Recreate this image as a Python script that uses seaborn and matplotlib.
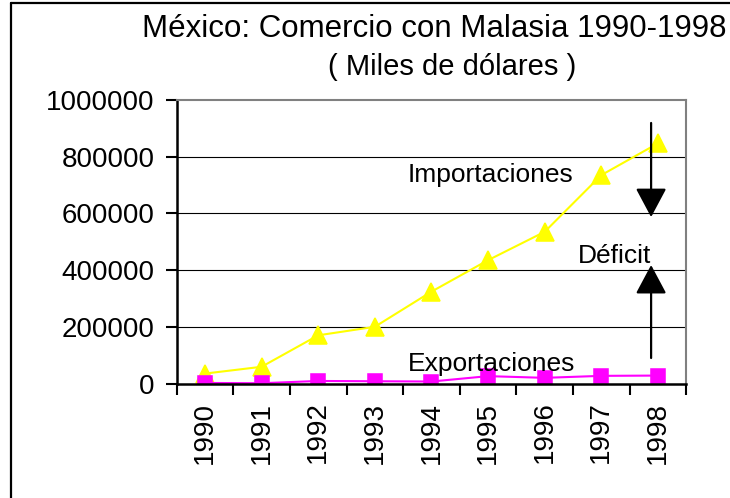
import matplotlib
matplotlib.use("Agg")
import matplotlib.pyplot as plt
import seaborn as sns
from matplotlib.lines import Line2D

years = ["1990", "1991", "1992", "1993", "1994", "1995", "1996", "1997", "1998"]
importaciones = [35000, 59000, 170000, 200000, 324000, 435000, 535000, 735000, 847000]
exportaciones = [2000, 1000, 9000, 8000, 7000, 26000, 20000, 27000, 28000]
y_ticks = [0, 200000, 400000, 600000, 800000, 1000000]

sns.set_style("white")
plt.rcParams["font.family"] = ["Liberation Sans", "DejaVu Sans"]
plt.rcParams["text.color"] = "black"
plt.rcParams["xtick.color"] = "black"
plt.rcParams["ytick.color"] = "black"

fig = plt.figure(figsize=(7.3, 4.98), dpi=100)
ax = fig.add_axes([0.242, 0.2299, 0.698, 0.5693])

for y in y_ticks[1:-1]:
    ax.axhline(y, color="black", lw=0.8, zorder=0)

sns.pointplot(x=years, y=importaciones, color="#ffff00", markers="^",
              markersize=13, linewidth=1.5, errorbar=None, ax=ax)
sns.pointplot(x=years, y=exportaciones, color="#ff00ff", markers="s",
              markersize=10.5, linewidth=1.5, errorbar=None, ax=ax)
ax.lines[-1].set_markeredgecolor("#ff00ff")

ax.set_xlim(-0.5, len(years) - 0.5)
ax.set_ylim(0, 1000000)
ax.set_xlabel("")
ax.set_ylabel("")

ax.set_yticks(y_ticks)
ax.set_yticklabels([str(v) for v in y_ticks], fontsize=20)
ax.set_xticks(range(len(years)))
ax.set_xticklabels(years, rotation=90, fontsize=20)
ax.set_xticks([i - 0.5 for i in range(len(years) + 1)], minor=True)
ax.tick_params(axis="x", which="major", length=0, pad=13)
ax.tick_params(axis="x", which="minor", length=8, width=1.5, direction="out", bottom=True)
ax.tick_params(axis="y", length=8, width=1.5, direction="out", left=True, pad=8)

for side in ["left", "bottom"]:
    ax.spines[side].set_color("black")
    ax.spines[side].set_linewidth(1.8)
for side in ["top", "right"]:
    ax.spines[side].set_color("#808080")
    ax.spines[side].set_linewidth(1.5)

# labels and deficit arrows
ax.text(3.58, 711000, "Importaciones", fontsize=19, va="baseline", ha="left")
ax.text(3.58, 44000, "Exportaciones", fontsize=19, va="baseline", ha="left")
ax.text(7.88, 425000, "Déficit", fontsize=19, va="baseline", ha="right")
arrow = dict(arrowstyle="-|>,head_length=0.9,head_width=0.48", color="black",
             lw=1.6, mutation_scale=20, shrinkA=0, shrinkB=0)
ax.annotate("", xy=(7.88, 587000), xytext=(7.88, 919000), arrowprops=arrow)
ax.annotate("", xy=(7.88, 418000), xytext=(7.88, 90000), arrowprops=arrow)

# title
fig.text(434 / 730, 1 - 36.7 / 498, "México: Comercio con Malasia 1990-1998",
         fontsize=22.5, ha="center", va="baseline")
fig.text(452 / 730, 1 - 75 / 498, "( Miles de dólares )",
         fontsize=21, ha="center", va="baseline")

# outer frame
fig.add_artist(Line2D([11 / 730, 11 / 730], [0, 1 - 3 / 498], color="black", lw=1.6))
fig.add_artist(Line2D([11 / 730, 1], [1 - 3 / 498, 1 - 3 / 498], color="black", lw=1.6))

fig.savefig("out.png", dpi=100)
